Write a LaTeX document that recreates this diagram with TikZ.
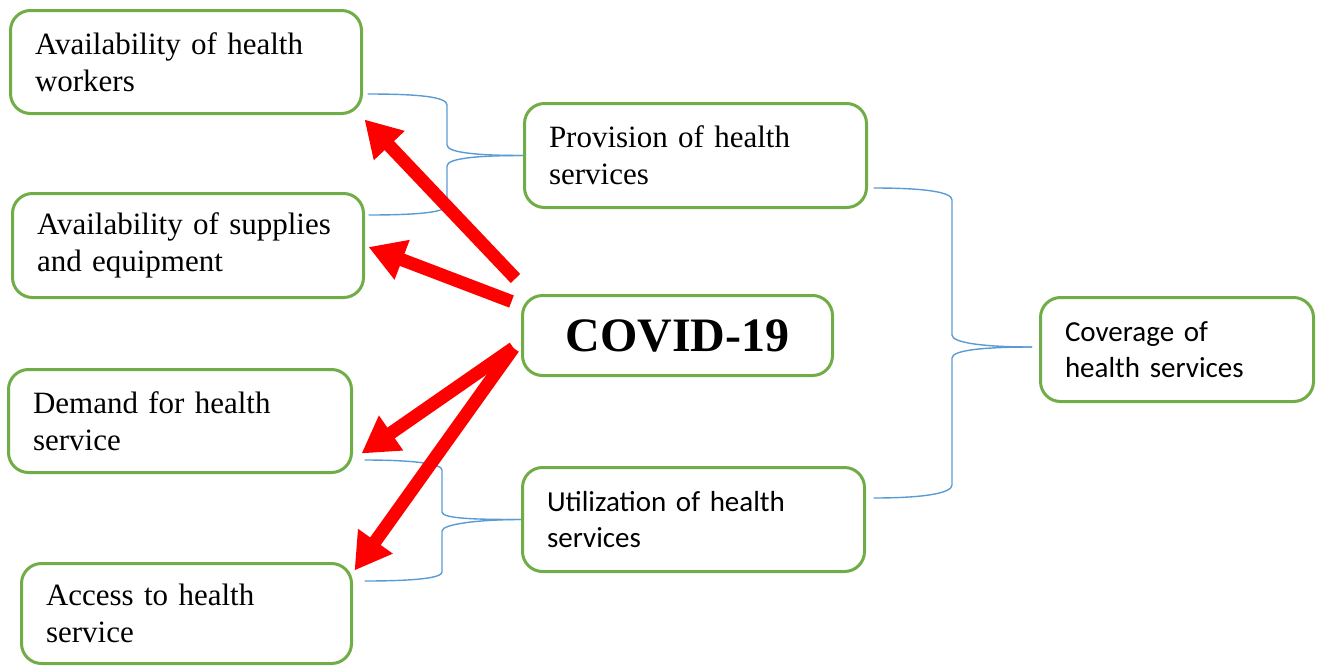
\documentclass[tikz,border=0pt]{standalone}
\usepackage{fontspec}
\setmainfont{Liberation Serif}
\newfontfamily\calib{Carlito}
\usetikzlibrary{arrows.meta,calc}
\definecolor{boxgreen}{RGB}{112,173,71}
\definecolor{braceblue}{RGB}{91,155,213}
\begin{document}
\begin{tikzpicture}[x=1pt,y=-1pt,
  box/.style={draw=boxgreen, line width=3pt, rounded corners=20pt, align=left,
    inner xsep=24.5pt, inner ysep=0pt, fill=white},
  serif/.style={font=\fontsize{31}{37}\selectfont},
  sans/.style={font=\calib\fontsize{29}{36}\selectfont},
  brace/.style={draw=braceblue, line width=1.4pt},
  bigarrow/.style={draw=red, line width=13pt, -{Triangle[length=36pt,width=40pt]}}]
\useasboundingbox (0,0) rectangle (1317,667);
% boxes
\node[box,serif,minimum width=351pt,minimum height=103pt,text width=302pt] (w1) at (186,62) {Availability of health\\workers};
\node[box,serif,minimum width=351pt,minimum height=104pt,text width=302pt] (w2) at (188,245.5) {Availability of supplies\\and equipment};
\node[box,serif,minimum width=343pt,minimum height=103pt,text width=294pt] (w3) at (180,421) {Demand for health\\service};
\node[box,serif,minimum width=330pt,minimum height=100pt,text width=281pt] (w4) at (186.5,613.5) {Access to health\\service};
\node[box,serif,minimum width=342pt,minimum height=104pt,text width=293pt] (prov) at (695.5,155.5) {Provision of health\\services};
\node[box,sans,minimum width=342pt,minimum height=104pt,text width=293pt] (util) at (693.5,519.5) {Utilization of health\\services};
\node[box,sans,minimum width=273pt,minimum height=104pt,text width=224pt] (cov) at (1177,349.5) {Coverage of\\health services};
\node[draw=boxgreen, line width=3pt, rounded corners=20pt, minimum width=310pt, minimum height=80pt,
  font=\bfseries\fontsize{48}{56}\selectfont] (cv) at (677.5,335.5) {COVID-19};
% braces
\coordinate (j2) at ($(cov.west)+(-7,-2.5)$);
\draw[brace] ($(w1.east)+(4.5,32)$) .. controls (420,94) and (447,97) .. (447,105) -- (447,145)
  .. controls (447,153) and (480,155.5) .. (prov.west);
\draw[brace] (prov.west) .. controls (480,155.5) and (447,158) .. (447,166) -- (447,205)
  .. controls (447,212) and (420,215) .. ($(w2.east)+(3.5,-30.5)$);
\draw[brace] ($(prov.east)+(5.5,32.5)$) .. controls (925,188) and (952,192) .. (952,200) -- (952,335)
  .. controls (952,343) and (985,347) .. (j2);
\draw[brace] (j2) .. controls (985,347) and (952,350) .. (952,358) -- (952,485)
  .. controls (952,493) and (925,498) .. ($(util.east)+(7.5,-21.5)$);
\draw[brace] ($(w3.east)+(11.5,39)$) .. controls (415,460) and (442,464) .. (442,470) -- (442,512)
  .. controls (442,519) and (480,519.5) .. (util.west);
\draw[brace] (util.west) .. controls (480,519.5) and (442,524) .. (442,531) -- (442,572)
  .. controls (442,578) and (415,581) .. ($(w4.east)+(11.5,-32.5)$);
% red arrows
\draw[bigarrow] ($(cv.north west)+(-5.5,-15.5)$) -- ($(w1.south east)+(1.5,4.5)$);
\draw[bigarrow] ($(cv.north west)+(-9.5,7.5)$) -- ($(w2.east)+(3.5,1.5)$);
\draw[bigarrow] ($(cv.west)+(-7.5,12.5)$) -- ($(w3.south east)+(8.5,-20.5)$);
\draw[bigarrow] ($(cv.west)+(-7.5,12.5)$) -- ($(w4.north east)+(1.5,8.5)$);
\end{tikzpicture}
\end{document}
